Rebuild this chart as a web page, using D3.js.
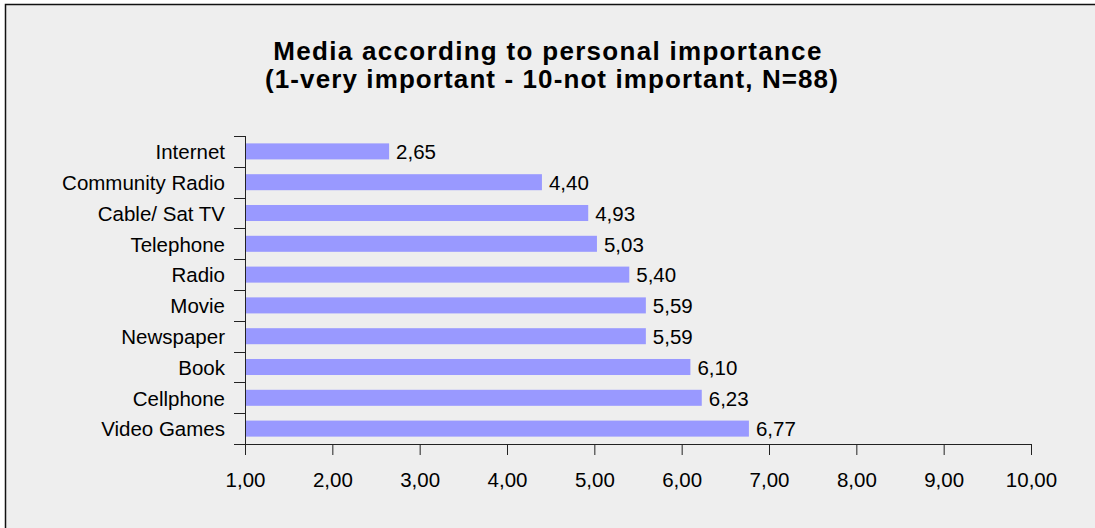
<!DOCTYPE html>
<html>
<head>
<meta charset="utf-8">
<script src="https://cdn.jsdelivr.net/npm/d3@7"></script>
<style>
  html, body { margin: 0; padding: 0; background: #ffffff; }
  svg { display: block; }
  text { font-family: "Liberation Sans", Arial, sans-serif; fill: #000; }
</style>
</head>
<body>
<svg id="chart" width="1095" height="528"></svg>
<script>
// Media ranked by mean importance score (1 = very important, 10 = not important)
const categories = ["Internet", "Community Radio", "Cable/ Sat TV", "Telephone", "Radio",
                    "Movie", "Newspaper", "Book", "Cellphone", "Video Games"];
const scores = [2.65, 4.40, 4.93, 5.03, 5.40, 5.59, 5.59, 6.10, 6.23, 6.77];
const xTicks = [1, 2, 3, 4, 5, 6, 7, 8, 9, 10];
const titleLines = ["Media according to personal importance",
                    "(1-very important - 10-not important, N=88)"];

const data = categories.map((c, i) => ({ name: c, value: scores[i] }));
const fmt = v => d3.format(".2f")(v).replace(".", ",");

const svg = d3.select("#chart");

// Panel background with frame
svg.append("rect")
  .attr("x", 5.5).attr("y", 4.5)
  .attr("width", 1200).attr("height", 600)
  .attr("fill", "#eeeeee")
  .attr("stroke", "#111").attr("stroke-width", 1.5);

// Title
svg.append("g").selectAll("text")
  .data(titleLines)
  .join("text")
  .attr("x", (d, i) => i === 0 ? 548 : 552)
  .attr("y", (d, i) => 60 + i * 28)
  .attr("text-anchor", "middle")
  .style("font-size", "26px")
  .style("font-weight", "bold")
  .style("letter-spacing", (d, i) => i === 0 ? "1.3px" : "1.1px")
  .text(d => d);

const plotLeft = 245, plotRight = 1031, plotTop = 136, plotBottom = 444;

const x = d3.scaleLinear().domain([1, 10]).range([plotLeft, plotRight]);
const y = d3.scaleBand().domain(categories).range([plotTop, plotBottom])
  .paddingInner(0.48).paddingOuter(0.24);

// Bars
svg.append("g").selectAll("rect")
  .data(data)
  .join("rect")
  .attr("x", x(1))
  .attr("y", d => y(d.name))
  .attr("width", d => x(d.value) - x(1))
  .attr("height", y.bandwidth())
  .attr("fill", "#9999ff");

// Value labels
svg.append("g").selectAll("text")
  .data(data)
  .join("text")
  .attr("x", d => x(d.value) + 7)
  .attr("y", d => y(d.name) + y.bandwidth() / 2)
  .attr("dy", "0.38em")
  .style("font-size", "20.5px")
  .text(d => fmt(d.value));

// X axis
const xAxis = svg.append("g")
  .attr("transform", `translate(0,${plotBottom})`)
  .call(d3.axisBottom(x).tickValues(xTicks).tickSize(11).tickPadding(17).tickSizeOuter(0).tickFormat(fmt));
xAxis.select(".domain").remove();
xAxis.selectAll("line").attr("stroke", "#222");
xAxis.selectAll("text").style("font-size", "20.5px").attr("font-family", null);
svg.append("line")
  .attr("x1", plotLeft - 11).attr("x2", plotRight)
  .attr("y1", plotBottom + 0.5).attr("y2", plotBottom + 0.5)
  .attr("stroke", "#222");

// Y axis: line, ticks at category boundaries, labels at category centres
const yAxis = svg.append("g");
yAxis.append("line")
  .attr("x1", plotLeft + 0.5).attr("x2", plotLeft + 0.5)
  .attr("y1", plotTop).attr("y2", plotBottom)
  .attr("stroke", "#222");
const boundaries = d3.range(categories.length).map(i => plotTop + i * y.step());
yAxis.selectAll("line.tick")
  .data(boundaries)
  .join("line")
  .attr("class", "tick")
  .attr("x1", plotLeft - 11).attr("x2", plotLeft)
  .attr("y1", d => Math.round(d) + 0.5).attr("y2", d => Math.round(d) + 0.5)
  .attr("stroke", "#222");
yAxis.selectAll("text")
  .data(categories)
  .join("text")
  .attr("x", plotLeft - 20)
  .attr("y", d => y(d) + y.bandwidth() / 2)
  .attr("dy", "0.38em")
  .attr("text-anchor", "end")
  .style("font-size", "20.5px")
  .text(d => d);
</script>
</body>
</html>
